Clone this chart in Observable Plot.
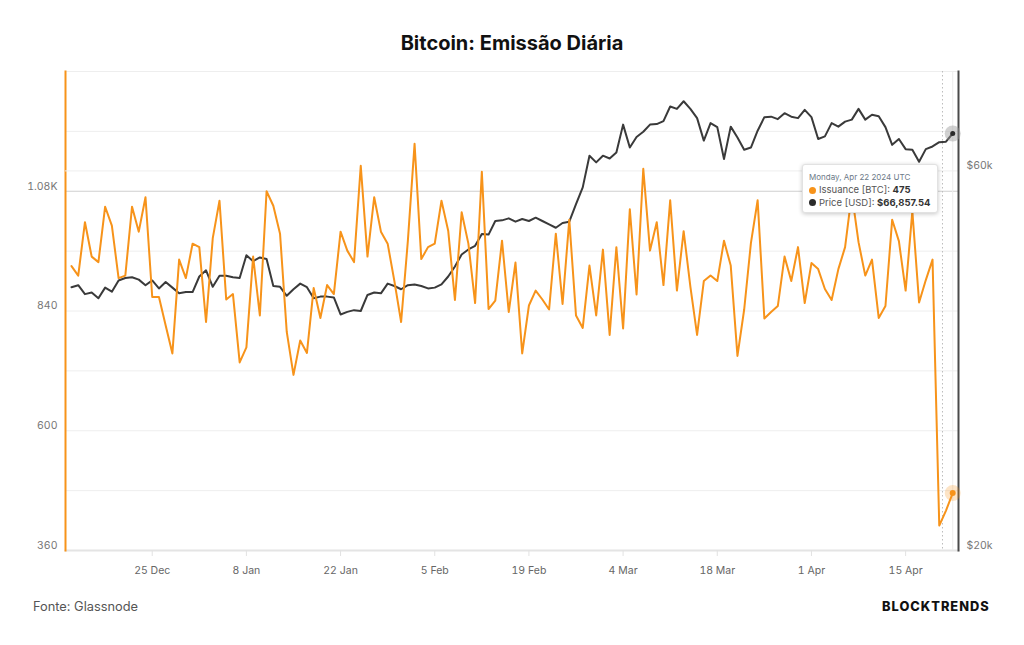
<!DOCTYPE html>
<html>
<head>
<meta charset="utf-8">
<script src="https://cdn.jsdelivr.net/npm/d3@7"></script>
<script src="https://cdn.jsdelivr.net/npm/@observablehq/plot@0.6"></script>
<style>
  body { margin: 0; background: #fff; font-family: Inter, "Noto Sans", sans-serif; }
  #wrap { position: relative; width: 1024px; height: 645px; overflow: hidden; background: #fff; }
  #title { position: absolute; top: 31px; left: 0; width: 1024px; text-align: center; font-weight: 700; font-size: 20px; line-height: 24px; color: #111; }
  .layer { position: absolute; left: 0; top: 60px; }
  #src { position: absolute; left: 33px; top: 599px; font-size: 12.8px; line-height: 16px; color: #555; }
  #brand { position: absolute; left: 882px; top: 599px; font-size: 12.8px; line-height: 16px; font-weight: 800; letter-spacing: 1px; color: #111; }
  #tip { position: absolute; left: 802px; top: 164px; width: 136px; height: 49px; background: #fff; border: 1px solid #e2e2e2; border-radius: 3px; box-shadow: 0 1px 4px rgba(0,0,0,0.22); box-sizing: border-box; padding: 7px 0 0 6px; font-size: 9.5px; line-height: 12.5px; color: #555; white-space: nowrap; }
  #tip .d { font-size: 8px; color: #6d7a88; line-height: 11px; margin-bottom: 1px; }
  #tip .dot { display: inline-block; width: 7px; height: 7px; border-radius: 50%; margin-right: 3px; vertical-align: -0.5px; }
  #tip b { color: #333; }
</style>
</head>
<body>
<div id="wrap">
  <div id="title">Bitcoin: Emissão Diária</div>
  <div id="l0" class="layer"></div>
  <div id="l1" class="layer"></div>
  <div id="l2" class="layer"></div>
  <div id="tip">
    <div class="d">Monday, Apr 22 2024 UTC</div>
    <div><span class="dot" style="background:#f7931a"></span>Issuance [BTC]: <b>475</b></div>
    <div><span class="dot" style="background:#2b2b2b"></span>Price [USD]: <b>$66,857.54</b></div>
  </div>
  <div id="src">Fonte: Glassnode</div>
  <div id="brand">BLOCKTRENDS</div>
</div>
<script>
// ---- data ----
const startDate = "2023-12-13"; // first daily point (UTC)
const issuance = [
  930, 911, 1018, 949, 938, 1049, 1011, 906, 911, 1049,
  999, 1068, 868, 868, 811, 755, 943, 906, 975, 968,
  818, 986, 1061, 863, 874, 737, 767, 949, 831, 1080,
  1051, 995, 798, 712, 781, 756, 886, 826, 892, 874,
  999, 961, 938, 1131, 949, 1068, 999, 975, 900, 818,
  980, 1175, 944, 968, 975, 1061, 1001, 862, 1038, 975,
  856, 1119, 844, 861, 981, 838, 937, 755, 851, 881,
  863, 843, 995, 854, 1023, 831, 806, 931, 831, 963,
  792, 968, 805, 1044, 873, 1125, 961, 1018, 892, 1062,
  881, 1000, 889, 792, 900, 911, 900, 981, 931, 750,
  843, 976, 1062, 825, 838, 850, 949, 900, 968, 856,
  936, 924, 884, 862, 924, 968, 1075, 978, 911, 943,
  826, 850, 1023, 980, 881, 1040, 857, 902, 943, 410,
  440, 475
];
const price = [
  42850, 43100, 42000, 42200, 41500, 42800, 42300, 43700, 44000, 44100,
  43800, 43100, 43700, 42700, 43500, 42800, 42100, 42250, 42250, 44200,
  45000, 42900, 44300, 44300, 44100, 44000, 47000, 46200, 46700, 46500,
  43000, 42900, 41800, 42600, 43300, 42850, 41500, 41700, 41700, 41600,
  39600, 39900, 40100, 40000, 41900, 42200, 42100, 43300, 43000, 42600,
  43100, 43200, 43000, 42700, 42800, 43200, 44200, 45500, 47100, 47800,
  48300, 50000, 49900, 51900, 52000, 52300, 51800, 52200, 51900, 52400,
  51900, 51400, 50900, 51600, 51800, 54500, 57200, 62700, 61500, 62700,
  62200, 63300, 68600, 64200, 66200, 67200, 68600, 68700, 69300, 72300,
  71800, 73400, 71800, 69900, 65500, 68900, 68100, 62100, 68200, 66100,
  63800, 64200, 67400, 70100, 70200, 69700, 70900, 70200, 69900, 71600,
  70100, 65800, 66300, 68900, 68200, 69200, 69600, 71800, 69600, 70600,
  70300, 68100, 64700, 65800, 63900, 63800, 61600, 63900, 64400, 65200,
  65300, 66857.54
];
const xTickDates = ["2023-12-25","2024-01-08","2024-01-22","2024-02-05","2024-02-19","2024-03-04","2024-03-18","2024-04-01","2024-04-15"];
const issuanceTicks = [360, 600, 840, 1080];
const issuanceGrid = [480, 600, 720, 840, 960, 1200, 1320];
const priceTicks = [20000, 60000];
const halvingMarker = "2024-04-20T11:30:00Z";

// ---- build ----
const start = new Date(startDate + "T00:00:00Z");
const dates = issuance.map((_, i) => d3.utcDay.offset(start, i));
const issData = dates.map((date, i) => ({date, value: issuance[i]}));
const priceData = dates.map((date, i) => ({date, value: price[i]}));
const lastIss = issData[issData.length - 1];
const lastPrice = priceData[priceData.length - 1];
const xDomain = [new Date(+start - 0.892 * 864e5), new Date(+start + 131.86 * 864e5)];

const common = {
  width: 1024, height: 520,
  marginLeft: 65, marginRight: 66, marginTop: 11, marginBottom: 30,
  style: {fontFamily: "Inter, sans-serif", fontSize: "10.5px", background: "transparent", overflow: "visible"}
};
const xOpt = {type: "utc", domain: xDomain};
const yIss = {domain: [360, 1320]};
const yPrice = {type: "log", domain: [20000, 80000]};
const fmtIss = d => d >= 1000 ? (d / 1000).toFixed(2) + "K" : String(d);

const l0 = Plot.plot({
  ...common,
  x: xOpt, y: yIss,
  marks: [
    Plot.gridY(issuanceGrid, {stroke: "#eeeeee", strokeOpacity: 1}),
    Plot.gridY([1080], {stroke: "#cfcfcf", strokeOpacity: 1}),
    Plot.frame({anchor: "bottom", stroke: "#e4e4e4", strokeWidth: 2}),
    Plot.axisX(xTickDates.map(d => new Date(d + "T00:00:00Z")), {tickSize: 6, tickPadding: 10, stroke: "#e2e2e2", fill: "#666", label: null, tickFormat: d3.utcFormat("%-d %b")}),
    Plot.axisY(issuanceTicks, {anchor: "left", tickSize: 0, tickPadding: 8, dy: -5, fill: "#777", label: null, tickFormat: fmtIss}),
    Plot.frame({anchor: "left", stroke: "#f7931a", strokeWidth: 2})
  ]
});
document.getElementById("l0").append(l0);

const l1 = Plot.plot({
  ...common,
  x: {...xOpt, axis: null}, y: yPrice,
  marks: [
    Plot.gridY([60000], {stroke: "#eeeeee", strokeOpacity: 1}),
    Plot.axisY(priceTicks, {anchor: "right", tickSize: 0, tickPadding: 8, dy: -5, fill: "#777", label: null, tickFormat: d => "$" + d / 1000 + "k"}),
    Plot.ruleX([new Date(halvingMarker)], {stroke: "#bdbdbd", strokeDasharray: "1.5,2.5"}),
    Plot.ruleX([lastPrice], {x: "date", stroke: "#ececec"}),
    Plot.frame({anchor: "right", stroke: "#4a4a4a", strokeWidth: 2}),
    Plot.line(priceData, {x: "date", y: "value", stroke: "#3a3a3a", strokeWidth: 2}),
    Plot.dot([lastPrice], {x: "date", y: "value", r: 8, fill: "#9a9a9a", fillOpacity: 0.45}),
    Plot.dot([lastPrice], {x: "date", y: "value", r: 2.5, fill: "#2b2b2b"})
  ]
});
document.getElementById("l1").append(l1);

const l2 = Plot.plot({
  ...common,
  x: {...xOpt, axis: null}, y: {...yIss, axis: null},
  marks: [
    Plot.line(issData, {x: "date", y: "value", stroke: "#f7931a", strokeWidth: 2}),
    Plot.dot([lastIss], {x: "date", y: "value", r: 8, fill: "#f7931a", fillOpacity: 0.25}),
    Plot.dot([lastIss], {x: "date", y: "value", r: 3, fill: "#f7931a"})
  ]
});
document.getElementById("l2").append(l2);
</script>
</body>
</html>
